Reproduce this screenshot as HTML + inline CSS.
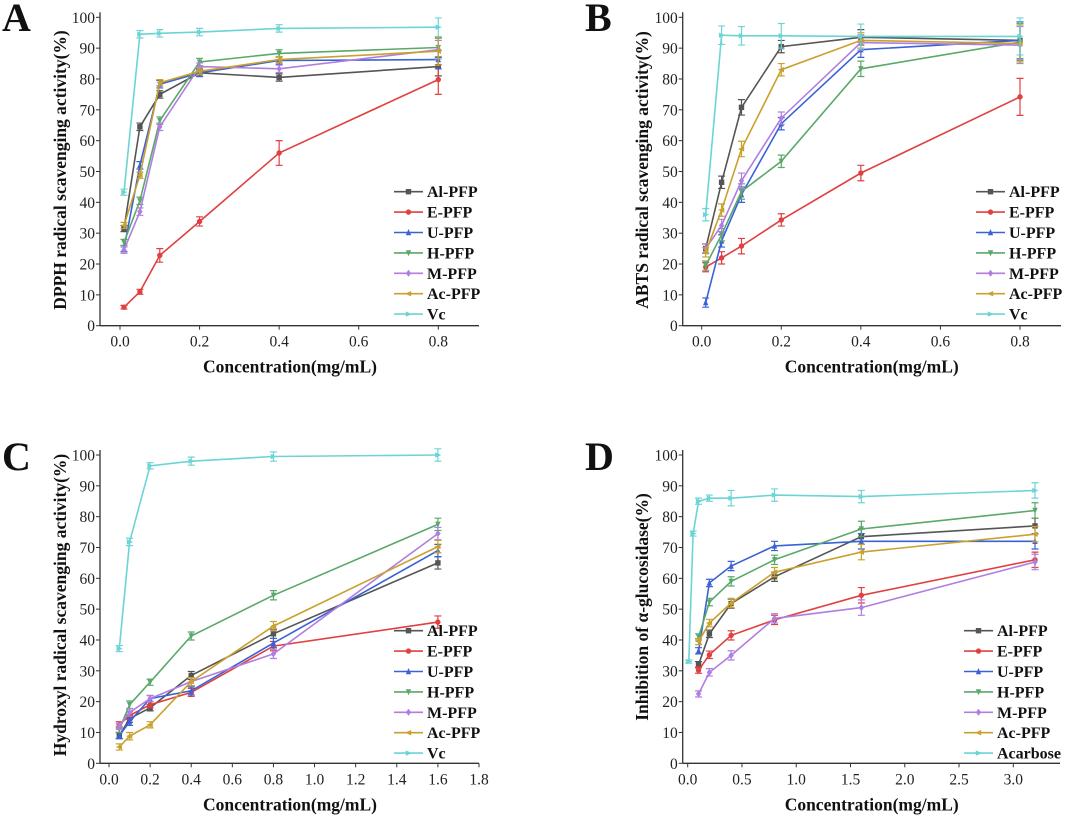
<!DOCTYPE html>
<html><head><meta charset="utf-8">
<style>
html,body{margin:0;padding:0;background:#fff;}
svg{display:block;font-family:"Liberation Serif",serif;}
.tick{font-size:15.5px;fill:#222;}
.ttl{font-size:17.5px;font-weight:bold;fill:#111;}
.leg{font-size:16px;font-weight:bold;fill:#111;}
.let{font-size:40px;font-weight:bold;fill:#111;}
</style></head>
<body>
<svg id="fig" width="1080" height="816" viewBox="0 0 1080 816"></svg>
<script>
// ---- Panel A (DPPH) ----
const xA = [0.01,0.05,0.1,0.2,0.4,0.8];
const A_Al = [31.5,64.5,75,82,80.5,84];
const A_E  = [6,11,22.8,33.8,56,79.8];
const A_U  = [25,52,78.3,82,86,86.3];
const A_H  = [27,40.5,66.5,85.5,88.3,90.2];
const A_M  = [24.5,37,64.5,84,83.3,89.5];
const A_Ac = [32.5,48.8,78.8,82.5,86.3,89];
const A_Vc = [43.3,94.5,94.8,95.2,96.4,96.8];
const A_err = [1,1.2,1.2,1.2,1.2,3];
const A_errE = [0.6,0.8,2.2,1.5,4,4.8];
// ---- Panel B (ABTS) ----
const xB = [0.01,0.05,0.1,0.2,0.4,0.8];
const B_Al = [25,46.5,70.8,90.5,93.5,92.5];
const B_E  = [19,22,25.8,34.3,49.5,74.2];
const B_U  = [7.5,27.5,42.5,65.5,89.5,92.5];
const B_H  = [19.5,29.5,43.5,53.3,83.3,92];
const B_M  = [25,32.5,47,67.3,91.8,91];
const B_Ac = [23.8,37.5,57.3,83,92.5,91.5];
const B_Vc = [36,94.2,94,94,93.8,93.8];
const B_err = [1.5,2,2.5,2,2.5,6];
// ---- Panel C (Hydroxyl) ----
const xC = [0.05,0.1,0.2,0.4,0.8,1.6];
const C_Al = [9,14.5,18,28.5,42,65];
const C_E  = [12.5,15.5,19,23,38,45.8];
const C_U  = [9,13.5,21,23.5,39,69];
const C_H  = [11,19,26.3,41.3,54.5,77.5];
const C_M  = [12,16.5,21,26.5,35.5,74.5];
const C_Ac = [5.3,8.8,12.5,26.5,44.5,70.3];
const C_Vc = [37.2,71.8,96.5,98,99.5,100];
const C_err = [1,1.2,1,1.3,1.5,2];
// ---- Panel D (alpha-glucosidase) ----
const xD = [0.1,0.2,0.4,0.8,1.6,3.2];
const xDacar = [0.01,0.05,0.1,0.2,0.4,0.8,1.6,3.2];
const D_Al = [32,42,51.8,60.5,73.5,77];
const D_E  = [30.2,35.2,41.5,46.5,54.5,66];
const D_U  = [36.5,58.5,64,70.5,72,72];
const D_H  = [41,52.3,59,66,76,82];
const D_M  = [22.5,29.5,35,47,50.5,65.3];
const D_Ac = [39.5,45.5,52,62,68.5,74.3];
const D_Acar = [33,74.5,85,86,86,87,86.5,88.5];
const D_err = [1,1.2,1.5,1.5,2.5,2.5];
const D_errA = [0.5,0.8,1,1,2.5,2,2,2.5];

const yTicks = [0,10,20,30,40,50,60,70,80,90,100];
const xTicksAB = [0.0,0.2,0.4,0.6,0.8];
const xTicksC = [0.0,0.2,0.4,0.6,0.8,1.0,1.2,1.4,1.6,1.8];
const xTicksD = [0.0,0.5,1.0,1.5,2.0,2.5,3.0];
const legendFP = ["Al-PFP","E-PFP","U-PFP","H-PFP","M-PFP","Ac-PFP","Vc"];
const legendD = ["Al-PFP","E-PFP","U-PFP","H-PFP","M-PFP","Ac-PFP","Acarbose"];

const colors = ["#555555","#e04040","#3a62d8","#5aa86a","#b07ee0","#c9a12c","#6cd4d4"];
const markers = ["sq","ci","tu","td","di","tl","tr"];
const NS = "http://www.w3.org/2000/svg";
const svg = document.getElementById("fig");
function mk(tag, attrs, parent){const e=document.createElementNS(NS,tag);for(const k in attrs)e.setAttribute(k,attrs[k]);(parent||svg).appendChild(e);return e;}

function marker(g,type,x,y,c){
  const s=2.7;let e;
  if(type==="sq") e=mk("rect",{x:x-s,y:y-s,width:2*s,height:2*s,fill:c},g);
  else if(type==="ci") e=mk("circle",{cx:x,cy:y,r:s,fill:c},g);
  else {
    let p;
    if(type==="tu")p=[[x,y-s-0.8],[x-s,y+s],[x+s,y+s]];
    if(type==="td")p=[[x,y+s+0.8],[x-s,y-s],[x+s,y-s]];
    if(type==="tl")p=[[x-s-0.8,y],[x+s,y-s],[x+s,y+s]];
    if(type==="tr")p=[[x+s+0.8,y],[x-s,y-s],[x-s,y+s]];
    if(type==="di")p=[[x,y-s-0.8],[x+s,y],[x,y+s+0.8],[x-s,y]];
    e=mk("polygon",{points:p.map(q=>q.join(",")).join(" "),fill:c},g);
  }
  
  
}

function panel(cfg){
  const g=mk("g",{});
  
  
  const X=v=>cfg.px0+(v-cfg.x0)*(cfg.px1-cfg.px0)/(cfg.x1-cfg.x0);
  const Y=v=>cfg.py0+(v)*(cfg.py100-cfg.py0)/100;
  const ya=mk("line",{x1:cfg.ax,y1:cfg.py100-5,x2:cfg.ax,y2:cfg.py0,stroke:"#333","stroke-width":1.3},g);
  
  const xa=mk("line",{x1:cfg.ax,y1:cfg.py0,x2:cfg.axEnd,y2:cfg.py0,stroke:"#333","stroke-width":1.3},g);
  
  yTicks.forEach(t=>{
    mk("line",{x1:cfg.ax-4,y1:Y(t),x2:cfg.ax,y2:Y(t),stroke:"#333","stroke-width":1},g);
    const tx=mk("text",{x:cfg.ax-5,y:Y(t)+5.5,"text-anchor":"end",class:"tick"},g);tx.textContent=t;
    
  });
  cfg.xt.forEach(t=>{
    mk("line",{x1:X(t),y1:cfg.py0,x2:X(t),y2:cfg.py0+4,stroke:"#333","stroke-width":1},g);
    const tx=mk("text",{x:X(t),y:cfg.py0+21,"text-anchor":"middle",class:"tick"},g);tx.textContent=t.toFixed(1);
    
  });
  const xt=mk("text",{x:cfg.xtX,y:cfg.py0+47,"text-anchor":"middle",class:"ttl"},g);xt.textContent="Concentration(mg/mL)";
  
  const yt=mk("text",{x:0,y:0,"text-anchor":"middle",class:"ttl",transform:`translate(${cfg.ytX},${cfg.ytY}) rotate(-90)`},g);yt.textContent=cfg.ytitle;
  
  const lt=mk("text",{x:cfg.letX,y:cfg.letY,class:"let"},g);lt.textContent=cfg.letter;
  
  cfg.series.forEach((s,i)=>{
    const sg=mk("g",{},g);
    
    
    const xs=s.x||cfg.xs;
    const pts=xs.map((x,j)=>X(x).toFixed(1)+","+Y(s.v[j]).toFixed(1)).join(" ");
    mk("polyline",{points:pts,fill:"none",stroke:colors[i],"stroke-width":1.6},sg);
    xs.forEach((x,j)=>{
      const e=s.e[j],px=X(x);
      mk("path",{d:`M${px},${Y(s.v[j]+e)}V${Y(s.v[j]-e)}M${px-3.5},${Y(s.v[j]+e)}h7M${px-3.5},${Y(s.v[j]-e)}h7`,stroke:colors[i],"stroke-width":1.2,fill:"none"},sg);
      marker(sg,markers[i],px,Y(s.v[j]),colors[i]);
    });
  });
  cfg.legend.forEach((n,i)=>{
    const y=cfg.lgY+i*20.4;
    const lg=mk("g",{},g);
    
    mk("line",{x1:cfg.lgX,y1:y,x2:cfg.lgX+29,y2:y,stroke:colors[i],"stroke-width":1.6},lg);
    marker(lg,markers[i],cfg.lgX+14.5,y,colors[i]);
    const t=mk("text",{x:cfg.lgX+33,y:y+5.5,class:"leg"},lg);t.textContent=n;
  });
}
const S=(v,e)=>({v:v,e:e});
panel({name:"panel-a-dpph",letter:"A",letX:2,letY:31,ax:100,axEnd:479,px0:120,px1:438.3,x0:0,x1:0.8,py0:325.7,py100:17.3,
  xt:xTicksAB,xs:xA,xtX:290,ytX:66,ytY:170,ytitle:"DPPH radical scavenging activity(%)",lgX:394,lgY:191.7,legend:legendFP,
  series:[S(A_Al,A_err),S(A_E,A_errE),S(A_U,A_err),S(A_H,A_err),S(A_M,A_err),S(A_Ac,[1,1,1,1,1,4.5]),S(A_Vc,A_err)]});
panel({name:"panel-b-abts",letter:"B",letX:585,letY:31,ax:682.7,axEnd:1061,px0:701.7,px1:1020,x0:0,x1:0.8,py0:325.7,py100:17.3,
  xt:xTicksAB,xs:xB,xtX:871.7,ytX:648,ytY:170,ytitle:"ABTS radical scavenging activity(%)",lgX:976,lgY:191.7,legend:legendFP,
  series:[S(B_Al,B_err),S(B_E,B_err),S(B_U,B_err),S(B_H,B_err),S(B_M,B_err),S(B_Ac,B_err),S(B_Vc,[2,3,3,4,4,6])]});
panel({name:"panel-c-hydroxyl",letter:"C",letX:2,letY:470,ax:100,axEnd:479,px0:109,px1:479,x0:0,x1:1.8,py0:763.3,py100:455,
  xt:xTicksC,xs:xC,xtX:290,ytX:66,ytY:605,ytitle:"Hydroxyl radical scavenging activity(%)",lgX:394,lgY:630.7,legend:legendFP,
  series:[S(C_Al,C_err),S(C_E,C_err),S(C_U,C_err),S(C_H,C_err),S(C_M,C_err),S(C_Ac,C_err),S(C_Vc,C_err)]});
panel({name:"panel-d-glucosidase",letter:"D",letX:585,letY:470,ax:682.7,axEnd:1060,px0:687.7,px1:1013.3,x0:0,x1:3.0,py0:763.3,py100:455,
  xt:xTicksD,xs:xD,xtX:871.7,ytX:648,ytY:607,ytitle:"Inhibition of α-glucosidase(%)",lgX:964,lgY:630.7,legend:legendD,
  series:[S(D_Al,D_err),S(D_E,D_err),S(D_U,D_err),S(D_H,D_err),S(D_M,D_err),S(D_Ac,D_err),{x:xDacar,v:D_Acar,e:D_errA}]});
</script>
</body></html>
